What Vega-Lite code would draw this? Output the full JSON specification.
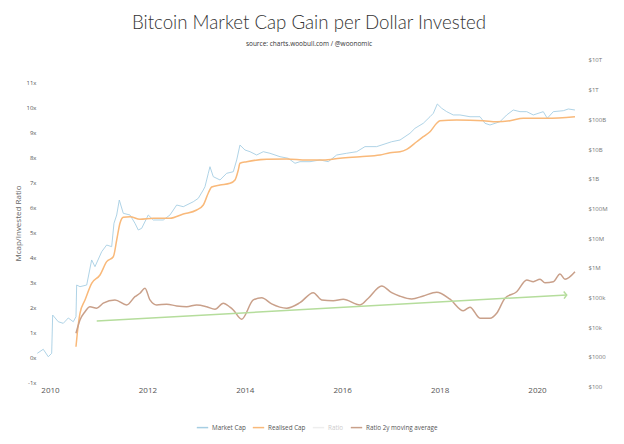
{
  "$schema": "https://vega.github.io/schema/vega-lite/v6.json",
  "width": 542,
  "height": 330,
  "autosize": {"type": "none"},
  "padding": {"left": 38, "top": 58, "right": 44, "bottom": 56},
  "background": "white",
  "title": {
    "text": "Bitcoin Market Cap Gain per Dollar Invested",
    "subtitle": "source: charts.woobull.com / @woonomic",
    "anchor": "middle",
    "font": "Lato",
    "fontSize": 18.7,
    "fontWeight": 300,
    "color": "#333333",
    "subtitleFont": "Open Sans",
    "subtitleFontSize": 6.5,
    "subtitleColor": "#333333",
    "subtitlePadding": 9,
    "offset": 9
  },
  "datasets": {
    "caps": [
      {"series": "Market Cap", "year": 2009.739, "value": 1330},
      {"series": "Market Cap", "year": 2009.862, "value": 1820},
      {"series": "Market Cap", "year": 2009.965, "value": 1020},
      {"series": "Market Cap", "year": 2010.035, "value": 1330},
      {"series": "Market Cap", "year": 2010.055, "value": 25900},
      {"series": "Market Cap", "year": 2010.170, "value": 15400},
      {"series": "Market Cap", "year": 2010.273, "value": 13600},
      {"series": "Market Cap", "year": 2010.376, "value": 20600},
      {"series": "Market Cap", "year": 2010.478, "value": 15400},
      {"series": "Market Cap", "year": 2010.534, "value": 22700},
      {"series": "Market Cap", "year": 2010.548, "value": 265000},
      {"series": "Market Cap", "year": 2010.616, "value": 233000},
      {"series": "Market Cap", "year": 2010.754, "value": 265000},
      {"series": "Market Cap", "year": 2010.856, "value": 1850000},
      {"series": "Market Cap", "year": 2010.924, "value": 1100000},
      {"series": "Market Cap", "year": 2011.062, "value": 3510000},
      {"series": "Market Cap", "year": 2011.164, "value": 5900000},
      {"series": "Market Cap", "year": 2011.267, "value": 5180000},
      {"series": "Market Cap", "year": 2011.314, "value": 31800000},
      {"series": "Market Cap", "year": 2011.370, "value": 60400000},
      {"series": "Market Cap", "year": 2011.423, "value": 193000000},
      {"series": "Market Cap", "year": 2011.505, "value": 68900000},
      {"series": "Market Cap", "year": 2011.643, "value": 60400000},
      {"series": "Market Cap", "year": 2011.745, "value": 31800000},
      {"series": "Market Cap", "year": 2011.813, "value": 18900000},
      {"series": "Market Cap", "year": 2011.883, "value": 21500000},
      {"series": "Market Cap", "year": 2012.018, "value": 60400000},
      {"series": "Market Cap", "year": 2012.121, "value": 41000000},
      {"series": "Market Cap", "year": 2012.326, "value": 41000000},
      {"series": "Market Cap", "year": 2012.464, "value": 60400000},
      {"series": "Market Cap", "year": 2012.602, "value": 131000000},
      {"series": "Market Cap", "year": 2012.737, "value": 115000000},
      {"series": "Market Cap", "year": 2012.943, "value": 169000000},
      {"series": "Market Cap", "year": 2013.045, "value": 220000000},
      {"series": "Market Cap", "year": 2013.148, "value": 420000000},
      {"series": "Market Cap", "year": 2013.183, "value": 542000000},
      {"series": "Market Cap", "year": 2013.251, "value": 1530000000},
      {"series": "Market Cap", "year": 2013.285, "value": 2550000000},
      {"series": "Market Cap", "year": 2013.353, "value": 1180000000},
      {"series": "Market Cap", "year": 2013.491, "value": 912000000},
      {"series": "Market Cap", "year": 2013.628, "value": 1530000000},
      {"series": "Market Cap", "year": 2013.764, "value": 1730000000},
      {"series": "Market Cap", "year": 2013.834, "value": 4300000000},
      {"series": "Market Cap", "year": 2013.901, "value": 13700000000},
      {"series": "Market Cap", "year": 2014.004, "value": 9330000000},
      {"series": "Market Cap", "year": 2014.107, "value": 8170000000},
      {"series": "Market Cap", "year": 2014.244, "value": 6320000000},
      {"series": "Market Cap", "year": 2014.380, "value": 8170000000},
      {"series": "Market Cap", "year": 2014.517, "value": 7230000000},
      {"series": "Market Cap", "year": 2014.723, "value": 5550000000},
      {"series": "Market Cap", "year": 2014.893, "value": 4900000000},
      {"series": "Market Cap", "year": 2015.031, "value": 3330000000},
      {"series": "Market Cap", "year": 2015.133, "value": 3770000000},
      {"series": "Market Cap", "year": 2015.339, "value": 3770000000},
      {"series": "Market Cap", "year": 2015.544, "value": 4300000000},
      {"series": "Market Cap", "year": 2015.715, "value": 3770000000},
      {"series": "Market Cap", "year": 2015.887, "value": 6320000000},
      {"series": "Market Cap", "year": 2016.092, "value": 7230000000},
      {"series": "Market Cap", "year": 2016.298, "value": 8170000000},
      {"series": "Market Cap", "year": 2016.468, "value": 12100000000},
      {"series": "Market Cap", "year": 2016.708, "value": 12100000000},
      {"series": "Market Cap", "year": 2017.016, "value": 17700000000},
      {"series": "Market Cap", "year": 2017.187, "value": 20200000000},
      {"series": "Market Cap", "year": 2017.392, "value": 34000000000},
      {"series": "Market Cap", "year": 2017.495, "value": 50100000000},
      {"series": "Market Cap", "year": 2017.665, "value": 73900000000},
      {"series": "Market Cap", "year": 2017.803, "value": 123000000000},
      {"series": "Market Cap", "year": 2017.871, "value": 160000000000},
      {"series": "Market Cap", "year": 2017.953, "value": 330000000000},
      {"series": "Market Cap", "year": 2018.043, "value": 237000000000},
      {"series": "Market Cap", "year": 2018.146, "value": 182000000000},
      {"series": "Market Cap", "year": 2018.281, "value": 141000000000},
      {"series": "Market Cap", "year": 2018.419, "value": 141000000000},
      {"series": "Market Cap", "year": 2018.624, "value": 123000000000},
      {"series": "Market Cap", "year": 2018.830, "value": 123000000000},
      {"series": "Market Cap", "year": 2018.932, "value": 73900000000},
      {"series": "Market Cap", "year": 2019.035, "value": 64800000000},
      {"series": "Market Cap", "year": 2019.240, "value": 83700000000},
      {"series": "Market Cap", "year": 2019.378, "value": 141000000000},
      {"series": "Market Cap", "year": 2019.513, "value": 207000000000},
      {"series": "Market Cap", "year": 2019.651, "value": 182000000000},
      {"series": "Market Cap", "year": 2019.789, "value": 182000000000},
      {"series": "Market Cap", "year": 2019.924, "value": 141000000000},
      {"series": "Market Cap", "year": 2020.129, "value": 182000000000},
      {"series": "Market Cap", "year": 2020.211, "value": 109000000000},
      {"series": "Market Cap", "year": 2020.335, "value": 182000000000},
      {"series": "Market Cap", "year": 2020.540, "value": 196000000000},
      {"series": "Market Cap", "year": 2020.643, "value": 224000000000},
      {"series": "Market Cap", "year": 2020.780, "value": 207000000000},
      {"series": "Realised Cap", "year": 2010.534, "value": 2220},
      {"series": "Realised Cap", "year": 2010.561, "value": 6280},
      {"series": "Realised Cap", "year": 2010.616, "value": 29600},
      {"series": "Realised Cap", "year": 2010.719, "value": 83000},
      {"series": "Realised Cap", "year": 2010.856, "value": 303000},
      {"series": "Realised Cap", "year": 2011.027, "value": 577000},
      {"series": "Realised Cap", "year": 2011.164, "value": 1620000},
      {"series": "Realised Cap", "year": 2011.300, "value": 2380000},
      {"series": "Realised Cap", "year": 2011.370, "value": 8690000},
      {"series": "Realised Cap", "year": 2011.437, "value": 31800000},
      {"series": "Realised Cap", "year": 2011.505, "value": 50600000},
      {"series": "Realised Cap", "year": 2011.643, "value": 53000000},
      {"series": "Realised Cap", "year": 2011.848, "value": 43300000},
      {"series": "Realised Cap", "year": 2012.121, "value": 46800000},
      {"series": "Realised Cap", "year": 2012.464, "value": 46800000},
      {"series": "Realised Cap", "year": 2012.737, "value": 65300000},
      {"series": "Realised Cap", "year": 2013.012, "value": 89000000},
      {"series": "Realised Cap", "year": 2013.148, "value": 131000000},
      {"series": "Realised Cap", "year": 2013.251, "value": 333000000},
      {"series": "Realised Cap", "year": 2013.320, "value": 530000000},
      {"series": "Realised Cap", "year": 2013.491, "value": 618000000},
      {"series": "Realised Cap", "year": 2013.696, "value": 705000000},
      {"series": "Realised Cap", "year": 2013.799, "value": 912000000},
      {"series": "Realised Cap", "year": 2013.867, "value": 1980000000},
      {"series": "Realised Cap", "year": 2013.901, "value": 3330000000},
      {"series": "Realised Cap", "year": 2014.039, "value": 3770000000},
      {"series": "Realised Cap", "year": 2014.450, "value": 4540000000},
      {"series": "Realised Cap", "year": 2014.860, "value": 4650000000},
      {"series": "Realised Cap", "year": 2015.271, "value": 4300000000},
      {"series": "Realised Cap", "year": 2015.612, "value": 4300000000},
      {"series": "Realised Cap", "year": 2015.955, "value": 4900000000},
      {"series": "Realised Cap", "year": 2016.366, "value": 5550000000},
      {"series": "Realised Cap", "year": 2016.776, "value": 6320000000},
      {"series": "Realised Cap", "year": 2016.982, "value": 7570000000},
      {"series": "Realised Cap", "year": 2017.187, "value": 8170000000},
      {"series": "Realised Cap", "year": 2017.324, "value": 9840000000},
      {"series": "Realised Cap", "year": 2017.530, "value": 17700000000},
      {"series": "Realised Cap", "year": 2017.665, "value": 26200000000},
      {"series": "Realised Cap", "year": 2017.803, "value": 38500000000},
      {"series": "Realised Cap", "year": 2017.940, "value": 73900000000},
      {"series": "Realised Cap", "year": 2018.008, "value": 90400000000},
      {"series": "Realised Cap", "year": 2018.351, "value": 95500000000},
      {"series": "Realised Cap", "year": 2018.897, "value": 90400000000},
      {"series": "Realised Cap", "year": 2019.172, "value": 83700000000},
      {"series": "Realised Cap", "year": 2019.446, "value": 90400000000},
      {"series": "Realised Cap", "year": 2019.719, "value": 109000000000},
      {"series": "Realised Cap", "year": 2020.199, "value": 109000000000},
      {"series": "Realised Cap", "year": 2020.780, "value": 123000000000}
    ],
    "ratio": [
      {"series": "Ratio 2y moving average", "year": 2010.534, "value": 0.98},
      {"series": "Ratio 2y moving average", "year": 2010.616, "value": 1.51},
      {"series": "Ratio 2y moving average", "year": 2010.719, "value": 1.84},
      {"series": "Ratio 2y moving average", "year": 2010.821, "value": 2.04},
      {"series": "Ratio 2y moving average", "year": 2010.959, "value": 1.98},
      {"series": "Ratio 2y moving average", "year": 2011.094, "value": 2.18},
      {"series": "Ratio 2y moving average", "year": 2011.335, "value": 2.31},
      {"series": "Ratio 2y moving average", "year": 2011.575, "value": 2.11},
      {"series": "Ratio 2y moving average", "year": 2011.745, "value": 2.44},
      {"series": "Ratio 2y moving average", "year": 2011.848, "value": 2.58},
      {"series": "Ratio 2y moving average", "year": 2011.951, "value": 2.78},
      {"series": "Ratio 2y moving average", "year": 2012.053, "value": 2.31},
      {"series": "Ratio 2y moving average", "year": 2012.191, "value": 2.11},
      {"series": "Ratio 2y moving average", "year": 2012.396, "value": 2.14},
      {"series": "Ratio 2y moving average", "year": 2012.602, "value": 2.07},
      {"series": "Ratio 2y moving average", "year": 2012.807, "value": 2.04},
      {"series": "Ratio 2y moving average", "year": 2013.012, "value": 2.11},
      {"series": "Ratio 2y moving average", "year": 2013.218, "value": 2.04},
      {"series": "Ratio 2y moving average", "year": 2013.388, "value": 1.94},
      {"series": "Ratio 2y moving average", "year": 2013.559, "value": 2.18},
      {"series": "Ratio 2y moving average", "year": 2013.696, "value": 2.02},
      {"series": "Ratio 2y moving average", "year": 2013.764, "value": 1.91},
      {"series": "Ratio 2y moving average", "year": 2013.936, "value": 1.54},
      {"series": "Ratio 2y moving average", "year": 2014.175, "value": 2.31},
      {"series": "Ratio 2y moving average", "year": 2014.347, "value": 2.40},
      {"series": "Ratio 2y moving average", "year": 2014.552, "value": 2.15},
      {"series": "Ratio 2y moving average", "year": 2014.860, "value": 1.98},
      {"series": "Ratio 2y moving average", "year": 2015.133, "value": 2.20},
      {"series": "Ratio 2y moving average", "year": 2015.406, "value": 2.60},
      {"series": "Ratio 2y moving average", "year": 2015.579, "value": 2.31},
      {"series": "Ratio 2y moving average", "year": 2015.817, "value": 2.28},
      {"series": "Ratio 2y moving average", "year": 2016.022, "value": 2.34},
      {"series": "Ratio 2y moving average", "year": 2016.366, "value": 2.11},
      {"series": "Ratio 2y moving average", "year": 2016.536, "value": 2.38},
      {"series": "Ratio 2y moving average", "year": 2016.811, "value": 2.87},
      {"series": "Ratio 2y moving average", "year": 2017.016, "value": 2.60},
      {"series": "Ratio 2y moving average", "year": 2017.187, "value": 2.46},
      {"series": "Ratio 2y moving average", "year": 2017.427, "value": 2.35},
      {"series": "Ratio 2y moving average", "year": 2017.665, "value": 2.47},
      {"series": "Ratio 2y moving average", "year": 2017.940, "value": 2.62},
      {"series": "Ratio 2y moving average", "year": 2018.214, "value": 2.34},
      {"series": "Ratio 2y moving average", "year": 2018.487, "value": 1.88},
      {"series": "Ratio 2y moving average", "year": 2018.624, "value": 2.02},
      {"series": "Ratio 2y moving average", "year": 2018.830, "value": 1.58},
      {"series": "Ratio 2y moving average", "year": 2019.035, "value": 1.58},
      {"series": "Ratio 2y moving average", "year": 2019.172, "value": 1.78},
      {"series": "Ratio 2y moving average", "year": 2019.343, "value": 2.38},
      {"series": "Ratio 2y moving average", "year": 2019.583, "value": 2.64},
      {"series": "Ratio 2y moving average", "year": 2019.789, "value": 3.11},
      {"series": "Ratio 2y moving average", "year": 2019.924, "value": 3.04},
      {"series": "Ratio 2y moving average", "year": 2020.062, "value": 3.14},
      {"series": "Ratio 2y moving average", "year": 2020.164, "value": 3.00},
      {"series": "Ratio 2y moving average", "year": 2020.335, "value": 3.04},
      {"series": "Ratio 2y moving average", "year": 2020.472, "value": 3.35},
      {"series": "Ratio 2y moving average", "year": 2020.575, "value": 3.14},
      {"series": "Ratio 2y moving average", "year": 2020.780, "value": 3.44}
    ],
    "trend": [
      {"year": 2010.96, "value": 1.47, "end": false},
      {"year": 2020.61, "value": 2.51, "end": true}
    ]
  },
  "encoding": {
    "x": {
      "field": "year",
      "type": "quantitative",
      "scale": {"domain": [2009.754, 2020.883], "nice": false, "zero": false},
      "axis": {
        "title": null,
        "values": [2010, 2012, 2014, 2016, 2018, 2020],
        "format": "d",
        "labelFontSize": 8,
        "labelColor": "#555555",
        "labelPadding": 2,
        "offset": -4
      }
    }
  },
  "layer": [
    {
      "data": {"name": "caps"},
      "encoding": {
        "y": {
          "field": "value",
          "type": "quantitative",
          "scale": {"type": "log", "domain": [90.4, 11670000000000], "nice": false},
          "axis": {
            "orient": "right",
            "title": null,
            "values": [100, 1000, 10000, 100000, 1000000, 10000000, 100000000, 1000000000, 10000000000, 100000000000, 1000000000000, 10000000000000],
            "labelExpr": "datum.value >= 1e12 ? '$' + round(datum.value / 1e12) + 'T' : datum.value >= 1e9 ? '$' + round(datum.value / 1e9) + 'B' : datum.value >= 1e6 ? '$' + round(datum.value / 1e6) + 'M' : datum.value >= 1e4 ? '$' + round(datum.value / 1e3) + 'k' : '$' + round(datum.value)",
            "labelFontSize": 6,
            "labelColor": "#777777",
            "labelPadding": 8
          }
        },
        "color": {
          "field": "series",
          "type": "nominal",
          "scale": {
            "domain": ["Market Cap", "Realised Cap", "Ratio", "Ratio 2y moving average"],
            "range": ["#a6cee3", "#f9b97a", "#eeeeee", "#c9a08a"]
          },
          "legend": {
            "orient": "none",
            "legendX": 158,
            "legendY": 363,
            "direction": "horizontal",
            "title": null,
            "symbolType": "stroke",
            "symbolStrokeWidth": 1.5,
            "symbolSize": 130,
            "labelFontSize": 6.3,
            "labelOffset": 3,
            "labelColor": "#555555",
            "columnPadding": 3,
            "encode": {
              "labels": {
                "update": {"fill": {"signal": "datum.label == 'Ratio' ? '#cccccc' : '#555555'"}}
              }
            }
          }
        }
      },
      "layer": [
        {
          "transform": [{"filter": "datum.series == 'Market Cap'"}],
          "mark": {"type": "line", "strokeWidth": 0.9, "interpolate": "linear"}
        },
        {
          "transform": [{"filter": "datum.series == 'Realised Cap'"}],
          "mark": {"type": "line", "strokeWidth": 1.5, "interpolate": "monotone"}
        }
      ]
    },
    {
      "encoding": {
        "y": {
          "field": "value",
          "type": "quantitative",
          "scale": {"domain": [-1.212, 11.988], "nice": false, "zero": false},
          "axis": {
            "orient": "left",
            "title": "Mcap/Invested Ratio",
            "titleFontSize": 8,
            "titleFontWeight": "normal",
            "titleColor": "#666666",
            "titlePadding": 3,
            "values": [-1, 0, 1, 2, 3, 4, 5, 6, 7, 8, 9, 10, 11],
            "labelExpr": "datum.value + 'x'",
            "labelFontSize": 6,
            "labelColor": "#555555",
            "labelPadding": 2
          }
        }
      },
      "layer": [
        {
          "data": {"name": "ratio"},
          "mark": {"type": "line", "strokeWidth": 1.5, "interpolate": "monotone"},
          "encoding": {"color": {"field": "series", "type": "nominal"}}
        },
        {
          "data": {"name": "trend"},
          "mark": {"type": "line", "strokeWidth": 1.5, "color": "#b5dd9c"}
        },
        {
          "data": {"name": "trend"},
          "transform": [{"filter": "datum.end"}],
          "mark": {"type": "point", "shape": "M-0.8,-1L0,0L-0.8,1", "filled": false, "size": 50, "strokeWidth": 1.5, "color": "#b5dd9c", "angle": -3, "opacity": 1}
        }
      ]
    }
  ],
  "resolve": {"scale": {"y": "independent"}},
  "config": {
    "font": "Open Sans",
    "view": {"stroke": null},
    "axis": {"domain": false, "ticks": false, "grid": false, "labelFont": "Open Sans", "titleFont": "Open Sans"},
    "legend": {"labelFont": "Open Sans"}
  }
}
